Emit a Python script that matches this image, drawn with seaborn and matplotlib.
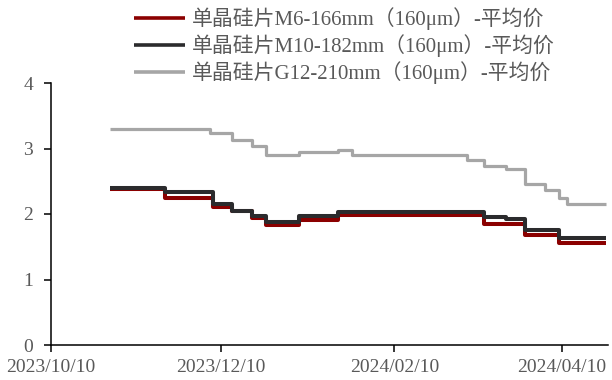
import matplotlib
matplotlib.use("Agg")
import matplotlib.pyplot as plt
import matplotlib.dates as mdates
import pandas as pd
import seaborn as sns

# Weekly average prices (RMB/piece); each date marks where a new price level starts
m6_dates = ["2023-10-31", "2023-11-20", "2023-12-07", "2023-12-14", "2023-12-21",
            "2023-12-26", "2024-01-07", "2024-01-21", "2024-03-13", "2024-03-28",
            "2024-04-09", "2024-04-26"]
m6_values = [2.38, 2.25, 2.11, 2.04, 1.94, 1.83, 1.91, 1.98, 1.84, 1.68, 1.55, 1.55]

m10_dates = ["2023-10-31", "2023-11-20", "2023-12-07", "2023-12-14", "2023-12-21",
             "2023-12-26", "2024-01-07", "2024-01-21", "2024-03-13", "2024-03-21",
             "2024-03-28", "2024-04-09", "2024-04-26"]
m10_values = [2.40, 2.33, 2.15, 2.05, 1.97, 1.88, 1.97, 2.03, 1.95, 1.92, 1.76, 1.64, 1.64]

g12_dates = ["2023-10-31", "2023-12-06", "2023-12-14", "2023-12-21", "2023-12-26",
             "2024-01-07", "2024-01-21", "2024-01-26", "2024-03-07", "2024-03-13",
             "2024-03-21", "2024-03-28", "2024-04-04", "2024-04-09", "2024-04-12",
             "2024-04-26"]
g12_values = [3.30, 3.23, 3.13, 3.04, 2.90, 2.95, 2.98, 2.90, 2.82, 2.74, 2.68, 2.46,
              2.36, 2.24, 2.15, 2.15]

series_names = ["单晶硅片M6-166mm（160μm）-平均价",
                "单晶硅片M10-182mm（160μm）-平均价",
                "单晶硅片G12-210mm（160μm）-平均价"]
series_colors = ["#8B0000", "#2B2B2D", "#A6A6A6"]
series_widths = [2.9, 2.9, 2.3]

x_ticks = ["2023-10-10", "2023-12-10", "2024-02-10", "2024-04-10"]
y_ticks = [0, 1, 2, 3, 4]

sns.set_style("ticks")
plt.rcParams["font.family"] = ["Liberation Serif", "Noto Sans CJK SC"]
plt.rcParams["axes.unicode_minus"] = False

text_grey = "#595959"

fig = plt.figure(figsize=(6.12, 3.80), dpi=100)
ax = fig.add_axes([51 / 612, 35 / 380, 557 / 612, 262 / 380])

frames = [
    pd.DataFrame({"date": pd.to_datetime(m6_dates), "price": m6_values}),
    pd.DataFrame({"date": pd.to_datetime(m10_dates), "price": m10_values}),
    pd.DataFrame({"date": pd.to_datetime(g12_dates), "price": g12_values}),
]

for df, name, color, lw in zip(frames, series_names, series_colors, series_widths):
    sns.lineplot(data=df, x="date", y="price", ax=ax, color=color, linewidth=lw,
                 drawstyle="steps-post", label=name, solid_capstyle="butt")

ax.set_xlim(pd.Timestamp("2023-10-10"), pd.Timestamp("2024-04-26 14:00"))
ax.set_ylim(0, 4)
ax.set_xticks(pd.to_datetime(x_ticks))
ax.xaxis.set_major_formatter(mdates.DateFormatter("%Y/%m/%d"))
ax.set_yticks(y_ticks)
ax.set_xlabel("")
ax.set_ylabel("")

for side in ("top", "right"):
    ax.spines[side].set_visible(False)
for side in ("left", "bottom"):
    ax.spines[side].set_color("black")
    ax.spines[side].set_linewidth(1.1)

ax.tick_params(axis="both", direction="out", length=5, width=1.1, color="black",
               labelsize=14, labelcolor=text_grey)
ax.tick_params(axis="y", pad=8)
ax.tick_params(axis="x", pad=5)

leg = ax.legend(loc="upper left", bbox_to_anchor=(134 / 612, 1 - 7 / 380),
                bbox_transform=fig.transFigure, frameon=False,
                fontsize=15, handlelength=2.45, handletextpad=0.33,
                labelspacing=0.2, borderpad=0.0, borderaxespad=0.0)
for txt in leg.get_texts():
    txt.set_color(text_grey)
for line in leg.get_lines():
    line.set_linewidth(2.6)

fig.savefig("out.png", dpi=100, facecolor="white")
